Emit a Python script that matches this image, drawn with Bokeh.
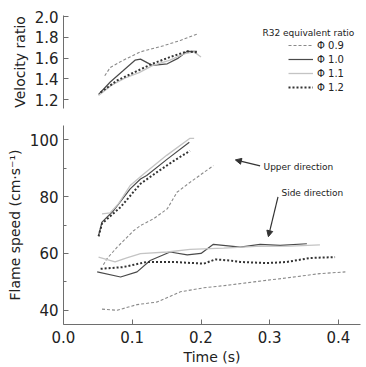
from bokeh.plotting import figure
from bokeh.layouts import column
from bokeh.models import (Range1d, Legend, LegendItem, Label, Arrow, NormalHead, FixedTicker,
                          PrintfTickFormatter)
from bokeh.embed import file_html
from bokeh.resources import INLINE

# ---------------- data ----------------
series_labels = ["Φ 0.9", "Φ 1.0", "Φ 1.1", "Φ 1.2"]
legend_title = "R32 equivalent ratio"

# velocity ratio (top panel)
vr_t09 = [0.060, 0.068, 0.087, 0.112, 0.146, 0.170, 0.194]
vr_v09 = [1.43, 1.51, 1.58, 1.66, 1.72, 1.77, 1.83]
vr_t10 = [0.051, 0.068, 0.087, 0.104, 0.112, 0.129, 0.151, 0.167, 0.180, 0.194]
vr_v10 = [1.25, 1.37, 1.48, 1.58, 1.59, 1.53, 1.545, 1.60, 1.665, 1.665]
vr_t11 = [0.051, 0.070, 0.090, 0.110, 0.130, 0.155, 0.175, 0.190, 0.200]
vr_v11 = [1.24, 1.34, 1.41, 1.46, 1.53, 1.58, 1.64, 1.66, 1.61]
vr_t12 = [0.054, 0.078, 0.102, 0.129, 0.155, 0.180, 0.194]
vr_v12 = [1.27, 1.385, 1.46, 1.545, 1.61, 1.665, 1.655]

# flame speed, upper direction
up_t09 = [0.058, 0.063, 0.078, 0.102, 0.112, 0.131, 0.151, 0.165, 0.184, 0.218]
up_v09 = [56.0, 58.1, 62.2, 68.0, 69.8, 72.2, 75.7, 81.5, 85.0, 90.9]
up_t10 = [0.051, 0.056, 0.073, 0.097, 0.112, 0.121, 0.150, 0.183]
up_v10 = [66.3, 71.0, 75.1, 82.7, 86.2, 87.4, 93.0, 99.1]
up_t11 = [0.056, 0.068, 0.080, 0.097, 0.117, 0.150, 0.184, 0.190]
up_v11 = [73.9, 74.3, 77.5, 83.9, 88.0, 94.5, 100.5, 100.5]
up_t12 = [0.051, 0.056, 0.083, 0.112, 0.136, 0.160, 0.184]
up_v12 = [66.0, 70.5, 76.3, 84.5, 88.6, 92.5, 96.1]

# flame speed, side direction
sd_t09 = [0.056, 0.078, 0.107, 0.136, 0.170, 0.204, 0.238, 0.277, 0.325, 0.373, 0.410]
sd_v09 = [40.4, 40.0, 42.0, 42.9, 46.5, 47.9, 48.8, 50.0, 51.4, 52.9, 53.5]
sd_t10 = [0.049, 0.083, 0.107, 0.126, 0.155, 0.180, 0.200, 0.218, 0.243, 0.257, 0.286, 0.315, 0.354]
sd_v10 = [53.5, 51.7, 53.5, 57.5, 60.5, 59.5, 60.0, 63.2, 62.6, 62.2, 63.2, 62.8, 63.4]
sd_t11 = [0.051, 0.075, 0.092, 0.112, 0.151, 0.184, 0.233, 0.280, 0.330, 0.373]
sd_v11 = [58.7, 57.0, 58.4, 59.9, 60.5, 61.4, 61.9, 62.5, 62.6, 63.0]
sd_t12 = [0.054, 0.087, 0.121, 0.160, 0.204, 0.221, 0.243, 0.257, 0.296, 0.325, 0.359, 0.395]
sd_v12 = [54.6, 55.2, 57.0, 57.0, 56.4, 57.9, 57.5, 57.0, 56.6, 57.0, 58.4, 58.7]

x_ticks = [0.0, 0.1, 0.2, 0.3, 0.4]
vr_ticks = [1.2, 1.4, 1.6, 1.8, 2.0]
fs_ticks = [40, 60, 80, 100]
fs_minor = [50, 70, 90]

# ---------------- styles ----------------
FONT = "DejaVu Sans"
AX = "#6e6e6e"
TXT = "#222222"
styles = [
    dict(line_color="#8a8a8a", line_width=1.1, line_dash="3 2"),
    dict(line_color="#4a4a4a", line_width=1.2),
    dict(line_color="#c4c4c4", line_width=1.3),
    dict(line_color="#333333", line_width=2.0, line_dash="2 2"),
]

W = 366
XR = (0.0, 0.432)


def style_axis(ax, size="15px"):
    ax.axis_line_color = AX
    ax.major_tick_line_color = AX
    ax.minor_tick_line_color = AX
    ax.major_tick_in = 5
    ax.major_tick_out = 0
    ax.minor_tick_in = 3
    ax.minor_tick_out = 0
    ax.major_label_text_font = FONT
    ax.major_label_text_font_size = size
    ax.major_label_text_color = TXT
    ax.axis_label_text_font = FONT
    ax.axis_label_text_font_size = "14px"
    ax.axis_label_text_font_style = "normal"
    ax.axis_label_text_color = TXT


def base_fig(h, yr, top, bottom):
    f = figure(width=W, height=h, x_range=Range1d(*XR), y_range=Range1d(*yr),
               output_backend="svg", toolbar_location=None,
               min_border_left=63, min_border_right=6,
               min_border_top=top, min_border_bottom=bottom)
    f.outline_line_color = None
    f.grid.visible = False
    f.background_fill_color = "white"
    f.border_fill_color = "white"
    return f


# ---------------- top panel ----------------
top = base_fig(115, (1.115, 2.01), 15, 7)
top.xaxis.visible = False
style_axis(top.yaxis[0])
top.yaxis[0].ticker = FixedTicker(ticks=vr_ticks)
top.yaxis[0].formatter = PrintfTickFormatter(format="%.1f")
top.yaxis[0].axis_label = "Velocity ratio"
top.yaxis[0].major_label_standoff = 5
top.yaxis[0].axis_label_standoff = 4

renderers = []
for (t, v), st in zip([(vr_t09, vr_v09), (vr_t10, vr_v10), (vr_t11, vr_v11), (vr_t12, vr_v12)], styles):
    renderers.append(top.line(t, v, **st))

legend = Legend(items=[LegendItem(label=l, renderers=[r]) for l, r in zip(series_labels, renderers)],
                location=(225, 15), padding=0, spacing=2, margin=0,
                glyph_width=25, glyph_height=12, label_height=12, label_standoff=4,
                label_text_font=FONT, label_text_font_size="10px", label_text_color=TXT,
                border_line_color=None, background_fill_alpha=0)
top.add_layout(legend, "center")
top.add_layout(Label(x=199, y=76, x_units="screen", y_units="screen", text=legend_title,
                     text_font=FONT, text_font_size="9px", text_color=TXT,
                     text_baseline="middle"))

# ---------------- bottom panel ----------------
bot = base_fig(252, (35, 105), 10, 41)
style_axis(bot.xaxis[0])
style_axis(bot.yaxis[0])
bot.xaxis[0].ticker = FixedTicker(ticks=x_ticks)
bot.xaxis[0].formatter = PrintfTickFormatter(format="%.1f")
bot.xaxis[0].axis_label = "Time (s)"
bot.xaxis[0].major_label_standoff = 6
bot.xaxis[0].axis_label_standoff = 3
bot.yaxis[0].ticker = FixedTicker(ticks=fs_ticks, minor_ticks=fs_minor)
bot.yaxis[0].axis_label = "Flame speed (cm·s⁻¹)"
bot.yaxis[0].major_label_standoff = 5
bot.yaxis[0].axis_label_standoff = 4

for (t, v), st in zip([(up_t09, up_v09), (up_t10, up_v10), (up_t11, up_v11), (up_t12, up_v12)], styles):
    bot.line(t, v, **st)
for (t, v), st in zip([(sd_t09, sd_v09), (sd_t10, sd_v10), (sd_t11, sd_v11), (sd_t12, sd_v12)], styles):
    bot.line(t, v, **st)

bot.add_layout(Label(x=0.291, y=90.4, text="Upper direction", text_font=FONT,
                     text_font_size="9px", text_color=TXT, text_baseline="middle"))
bot.add_layout(Arrow(x_start=0.286, y_start=90.8, x_end=0.250, y_end=92.9,
                     line_color="#333333", line_width=1.2,
                     end=NormalHead(size=6, fill_color="#333333", line_color="#333333")))
bot.add_layout(Label(x=0.317, y=81.3, text="Side direction", text_font=FONT,
                     text_font_size="9px", text_color=TXT, text_baseline="middle"))
bot.add_layout(Arrow(x_start=0.312, y_start=79.9, x_end=0.298, y_end=65.9,
                     line_color="#333333", line_width=1.2,
                     end=NormalHead(size=6, fill_color="#333333", line_color="#333333")))

layout = column(top, bot, spacing=0)
open("out.html", "w").write(file_html(layout, INLINE))
